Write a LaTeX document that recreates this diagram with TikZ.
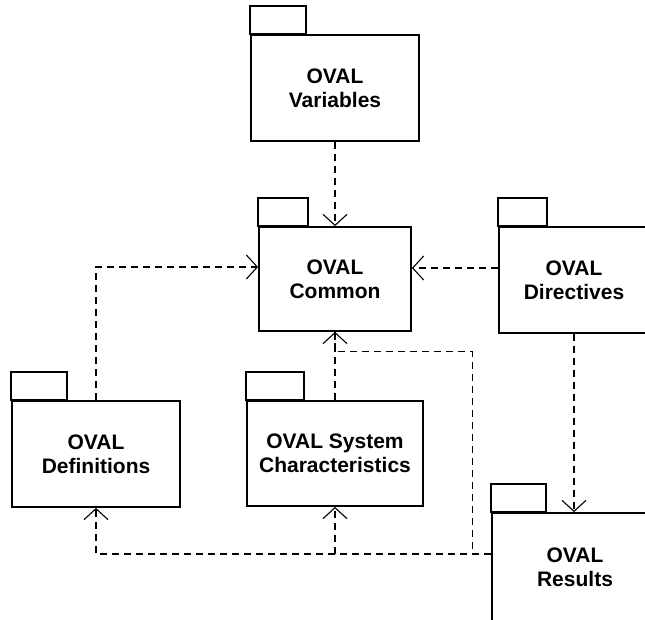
\documentclass[tikz,border=0pt]{standalone}
\usepackage{fontspec}
\setmainfont{Liberation Sans}
\usepackage{tikz}
\usetikzlibrary{arrows.meta, positioning}

\tikzset{
  pkg/.style={draw, line width=1.8pt, align=center, inner sep=0pt,
    font=\fontsize{21}{24}\selectfont\bfseries, minimum width=#1},
  pkg/.default=168pt,
  tab/.style={line width=1.8pt},
  dep/.style={line width=1.1pt, dash pattern=on 7pt off 5pt,
    -{Straight Barb[length=11pt, width=24pt]}},
  link/.style={line width=1.1pt, dash pattern=on 7pt off 5pt}
}

\begin{document}
\begin{tikzpicture}[x=1pt, y=-1pt]
\useasboundingbox (0,0) rectangle (645,619);
\node[pkg=168pt, minimum height=106pt] (var) at (335,88) {OVAL\\Variables};
\node[pkg=152pt, minimum height=104pt] (com) at (335,279) {OVAL\\Common};
\node[pkg=150pt, minimum height=106pt] (dir) at (574,280) {OVAL\\Directives};
\node[pkg=168pt, minimum height=106pt] (def) at (96,454) {OVAL\\Definitions};
\node[pkg=176pt, minimum height=105pt] (sys) at (335,453.5) {OVAL System\\Characteristics};
\node[pkg=166pt, minimum height=108pt] (res) at (575,567) {OVAL\\Results};
% tabs
\foreach \n/\w in {var/56, com/50, dir/49, def/56, sys/58, res/55}
  \draw[tab] (\n.north west) rectangle ++(\w,-28);
% dependencies
\coordinate (rj) at ([yshift=13pt]res.west);
\coordinate (rc) at ([xshift=-19pt]rj);
\draw[dep] (var.south) -- (com.north);
\draw[dep] ([yshift=12pt]dir.west) -- ([yshift=12pt]dir.west -| com.east);
\draw[dep] (def.north) |- ([yshift=12pt]com.west);
\draw[dep] (sys.north) -- (com.south);
\draw[dep] (dir.south) -- (dir.south |- res.north);
\draw[dep] (rj) -| (def.south);
\draw[dep] (rj -| sys.south) -- (sys.south);
\draw[link] (rj) -- (rc) |- ([yshift=-20pt]com.south) -- (com.south);
\end{tikzpicture}
\end{document}
